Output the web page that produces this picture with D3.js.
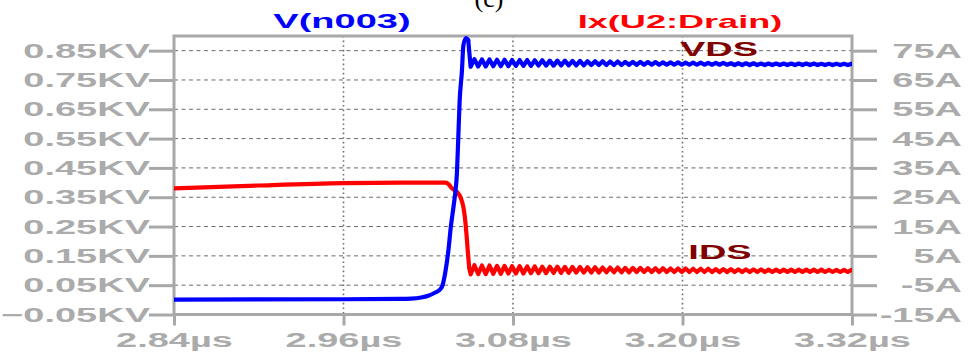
<!DOCTYPE html>
<html>
<head>
<meta charset="utf-8">
<script src="https://cdn.jsdelivr.net/npm/d3@7"></script>
<style>
  html, body { margin: 0; padding: 0; background: #fff; }
  svg { display: block; }
  text { font-family: "Liberation Sans", Arial, sans-serif; font-weight: bold; }
</style>
</head>
<body>
<svg id="chart" width="969" height="356"></svg>
<script>
// Axis ticks
const timeTicks = [2.84, 2.96, 3.08, 3.20, 3.32];            // µs
const voltTicks = [-0.05, 0.05, 0.15, 0.25, 0.35, 0.45, 0.55, 0.65, 0.75, 0.85]; // KV
const ampTicks  = [-15, -5, 5, 15, 25, 35, 45, 55, 65, 75];  // A

// V(n003): before turn-off and the rising edge (time µs, value KV)
const vEdgeTime = [2.84, 2.96, 3.00, 3.008, 3.015, 3.020, 3.0250, 3.0285, 3.0300, 3.0320,
                   3.0343, 3.0360, 3.0379, 3.0391, 3.0403, 3.0412, 3.0422, 3.0438, 3.0449,
                   3.0468, 3.0483];
const vEdgeValue = [0.001, 0.002, 0.003, 0.004, 0.008, 0.014, 0.025, 0.036, 0.048, 0.092,
                    0.170, 0.250, 0.318, 0.364, 0.432, 0.545, 0.676, 0.778, 0.869,
                    0.893, 0.886];

// Ix(U2:Drain): conduction and the falling edge (time µs, value A)
const iEdgeTime = [2.84, 2.90, 2.96, 3.00, 3.032, 3.0345, 3.0366, 3.0401, 3.0430, 3.0448,
                   3.0460, 3.0472, 3.0483, 3.0490];
const iEdgeValue = [28.0, 29.0, 29.8, 30.0, 30.0, 29.4, 28.1, 26.9, 24.8, 21.8,
                    17.9, 11.6, 4.7, 0.9];

// Ringing after turn-off, sampled every half period
const ringStart = 3.0500;   // µs
const ringStep = 0.00267;   // µs
const vRing = [
  0.795, 0.821, 0.796, 0.820, 0.796, 0.820, 0.797, 0.819, 0.797, 0.819,
  0.797, 0.818, 0.798, 0.818, 0.798, 0.818, 0.798, 0.817, 0.799, 0.817,
  0.799, 0.816, 0.799, 0.816, 0.800, 0.816, 0.800, 0.815, 0.800, 0.815,
  0.800, 0.814, 0.801, 0.814, 0.801, 0.814, 0.801, 0.813, 0.801, 0.813,
  0.801, 0.812, 0.802, 0.812, 0.802, 0.812, 0.802, 0.811, 0.802, 0.811,
  0.802, 0.810, 0.802, 0.810, 0.802, 0.810, 0.802, 0.809, 0.802, 0.809,
  0.802, 0.809, 0.802, 0.808, 0.802, 0.808, 0.802, 0.808, 0.802, 0.807,
  0.801, 0.807, 0.801, 0.807, 0.801, 0.807, 0.801, 0.806, 0.801, 0.806,
  0.801, 0.806, 0.801, 0.806, 0.801, 0.806, 0.801, 0.806, 0.801, 0.806,
  0.801, 0.806, 0.801, 0.805, 0.801, 0.805, 0.801, 0.805, 0.801, 0.805,
  0.801, 0.805
];
const iRing = [
  -1.3, 1.8, -1.2, 1.7, -1.2, 1.7, -1.1, 1.6, -1.1, 1.6,
  -1.0, 1.5, -1.0, 1.5, -1.0, 1.4, -0.9, 1.4, -0.9, 1.3,
  -0.9, 1.3, -0.8, 1.3, -0.8, 1.2, -0.8, 1.2, -0.7, 1.2,
  -0.7, 1.1, -0.7, 1.1, -0.7, 1.0, -0.6, 1.0, -0.6, 1.0,
  -0.6, 0.9, -0.6, 0.9, -0.5, 0.9, -0.5, 0.8, -0.5, 0.8,
  -0.5, 0.8, -0.5, 0.7, -0.5, 0.7, -0.5, 0.7, -0.5, 0.6,
  -0.5, 0.6, -0.5, 0.6, -0.5, 0.5, -0.5, 0.5, -0.5, 0.5,
  -0.5, 0.4, -0.5, 0.4, -0.5, 0.4, -0.5, 0.4, -0.5, 0.3,
  -0.5, 0.3, -0.5, 0.3, -0.5, 0.3, -0.5, 0.3, -0.5, 0.3,
  -0.5, 0.3, -0.5, 0.3, -0.5, 0.2, -0.5, 0.2, -0.5, 0.2,
  -0.5, 0.2
];

// Build point lists
const ringTimes = vRing.map((_, k) => ringStart + k * ringStep);
const vEdgePoints = vEdgeTime.map((t, k) => [t, vEdgeValue[k]]);
const iEdgePoints = iEdgeTime.map((t, k) => [t, iEdgeValue[k]]);
const vRingPoints = [vEdgePoints[vEdgePoints.length - 1]].concat(ringTimes.map((t, k) => [t, vRing[k]]));
const iRingPoints = [iEdgePoints[iEdgePoints.length - 1]].concat(ringTimes.map((t, k) => [t, iRing[k]]));

// Layout
const plot = { left: 174, right: 852, top: 36, bottom: 314.5 };
const frameColor = "#a8a8a8";
const labelColor = "#ababab";
const stretch = 1.9;   // horizontal stretch of all lettering
const fontSize = 20;

const svg = d3.select("#chart");

const x = d3.scaleLinear().domain([2.84, 3.32]).range([plot.left, plot.right]);
const yV = d3.scaleLinear().domain([-0.05, 0.90]).range([plot.bottom, plot.top]);
const yA = d3.scaleLinear().domain([-15, 80]).range([plot.bottom, plot.top]);

// Stretched text helper: anchor point (px, py) in the parent's coordinates
function stretchedText(sel, px, py) {
  sel.attr("x", px / stretch).attr("y", py)
     .attr("transform", `scale(${stretch},1)`);
  return sel;
}

// Grid: dashed horizontals, dotted verticals
svg.append("g").selectAll("line")
  .data(voltTicks.filter(v => v > -0.05))
  .join("line")
  .attr("x1", plot.left).attr("x2", plot.right)
  .attr("y1", d => yV(d)).attr("y2", d => yV(d))
  .attr("stroke", "#6a6a6a").attr("stroke-width", 1)
  .attr("stroke-dasharray", "4,3.5");

svg.append("g").selectAll("line")
  .data(timeTicks.slice(1, -1))
  .join("line")
  .attr("x1", d => x(d)).attr("x2", d => x(d))
  .attr("y1", plot.top).attr("y2", plot.bottom)
  .attr("stroke", "#707070").attr("stroke-width", 1.6)
  .attr("stroke-dasharray", "1.6,3");

// Axes
function styleAxis(g) {
  g.select(".domain").remove();
  g.selectAll(".tick line").attr("stroke", frameColor).attr("stroke-width", 3);
  g.selectAll(".tick text")
    .attr("fill", labelColor)
    .style("font-size", fontSize + "px")
    .style("font-weight", "bold")
    .style("font-family", '"Liberation Sans", Arial, sans-serif');
}

const leftAxis = svg.append("g")
  .attr("transform", `translate(${plot.left},0)`)
  .call(d3.axisLeft(yV).tickValues(voltTicks).tickSize(25).tickPadding(0)
        .tickFormat(d => d3.format(".2f")(d) + "KV"));
styleAxis(leftAxis);
leftAxis.selectAll(".tick text").each(function() {
  stretchedText(d3.select(this), -24, 0).attr("dy", "0.33em").attr("text-anchor", "end");
});

const rightAxis = svg.append("g")
  .attr("transform", `translate(${plot.right},0)`)
  .call(d3.axisRight(yA).tickValues(ampTicks).tickSize(25).tickPadding(0)
        .tickFormat(d => d + "A"));
styleAxis(rightAxis);
rightAxis.selectAll(".tick text").each(function() {
  stretchedText(d3.select(this), 110, 0).attr("dy", "0.33em").attr("text-anchor", "end");
});

const bottomAxis = svg.append("g")
  .attr("transform", `translate(0,${plot.bottom})`)
  .call(d3.axisBottom(x).tickValues(timeTicks).tickSize(11).tickPadding(0)
        .tickFormat(d => d3.format(".2f")(d) + "µs"));
styleAxis(bottomAxis);
bottomAxis.selectAll(".tick text").each(function() {
  stretchedText(d3.select(this), 0, 33).attr("dy", 0).attr("text-anchor", "middle");
});

// Frame
svg.append("rect")
  .attr("x", plot.left).attr("y", plot.top)
  .attr("width", plot.right - plot.left).attr("height", plot.bottom - plot.top)
  .attr("fill", "none").attr("stroke", frameColor).attr("stroke-width", 3);

// Traces: smooth edges, sharp zigzag ringing
svg.append("clipPath").attr("id", "plotClip")
  .append("rect")
  .attr("x", plot.left).attr("y", plot.top - 1)
  .attr("width", plot.right - plot.left).attr("height", plot.bottom - plot.top + 1);

function trace(points, yScale, color, curve) {
  svg.append("path")
    .datum(points)
    .attr("clip-path", "url(#plotClip)")
    .attr("fill", "none").attr("stroke", color).attr("stroke-width", 4.2)
    .attr("stroke-linejoin", "round").attr("stroke-linecap", "round")
    .attr("d", d3.line().curve(curve).x(d => x(d[0])).y(d => yScale(d[1])));
}

trace(iEdgePoints, yA, "#ff0000", d3.curveMonotoneX);
trace(iRingPoints, yA, "#ff0000", d3.curveLinear);
trace(vEdgePoints, yV, "#0000ff", d3.curveMonotoneX);
trace(vRingPoints, yV, "#0000ff", d3.curveLinear);

// Trace titles
stretchedText(svg.append("text").text("V(n003)"), 342, 28)
  .attr("text-anchor", "middle").attr("fill", "#0000ff").style("font-size", "20px");
stretchedText(svg.append("text").text("Ix(U2:Drain)"), 680, 28)
  .attr("text-anchor", "middle").attr("fill", "#ff0000").style("font-size", "19px");

// Annotations
stretchedText(svg.append("text").text("VDS"), 719, 56)
  .attr("text-anchor", "middle").attr("fill", "#800000").style("font-size", "20px");
stretchedText(svg.append("text").text("IDS"), 720, 259)
  .attr("text-anchor", "middle").attr("fill", "#800000").style("font-size", "20px");

// Panel tag
svg.append("text").text("(c)")
  .attr("x", 489).attr("y", 7)
  .attr("text-anchor", "middle")
  .attr("fill", "#000")
  .style("font-family", '"Liberation Serif", "Times New Roman", serif')
  .style("font-weight", "normal")
  .style("font-size", "26px");
</script>
</body>
</html>
